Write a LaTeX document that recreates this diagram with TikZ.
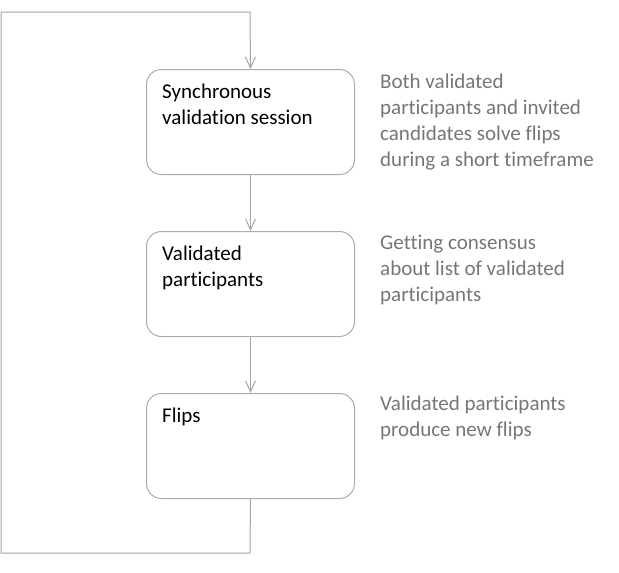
\documentclass[tikz,border=0pt]{standalone}
\usepackage{fontspec}
\setmainfont[Ligatures={NoCommon}]{Carlito}
\usetikzlibrary{arrows.meta}
\definecolor{linegray}{RGB}{165,165,165}
\definecolor{boxgray}{RGB}{172,172,172}
\definecolor{notegray}{RGB}{118,118,118}
\tikzset{
  stepbox/.style={draw=boxgray, line width=1pt, rounded corners=15pt, minimum width=208pt, minimum height=105pt, anchor=north west, inner sep=0pt},
  boxtext/.style={anchor=base west, align=left, inner sep=0pt, font=\fontsize{21}{26}\selectfont, text=black},
  note/.style={anchor=base west, align=left, inner sep=0pt, font=\fontsize{21}{26}\selectfont, text=notegray},
  flow/.style={draw=linegray, line width=1pt, -{Straight Barb[length=11pt, width=10pt, line width=1pt]}},
  plain/.style={draw=linegray, line width=1pt}
}
\begin{document}
\begin{tikzpicture}[x=1pt, y=-1pt]
\useasboundingbox (0,0) rectangle (619,573);
\node[stepbox] (b1) at (146,69) {};
\node[stepbox] (b2) at (146,231) {};
\node[stepbox] (b3) at (146,393) {};
% base anchor = baseline of last line
\node[boxtext] (t1) at (162,124) {Synchronous\\validation session};
\node[boxtext] (t2) at (162,286) {Validated\\participants};
\node[boxtext] (t3) at (162,422) {Flips};
\node[note] (n1) at (380,166) {Both validated\\participants and invited\\candidates solve flips\\during a short timeframe};
\node[note] (n2) at (380,301) {Getting consensus\\about list of validated\\participants};
\node[note] (n3) at (380,436) {Validated participants\\produce new flips};
\coordinate (c1) at (250,553);
\coordinate (c2) at (1,553);
\coordinate (c3) at (1,12);
\coordinate (c4) at (250,12);
\draw[flow] (b1.south) -- (b2.north);
\draw[flow] (b2.south) -- (b3.north);
\draw[plain] (b3.south) -- (c1) -- (c2) -- (c3) -- (c4);
\draw[flow] (c4) -- (b1.north);
\end{tikzpicture}
\end{document}
